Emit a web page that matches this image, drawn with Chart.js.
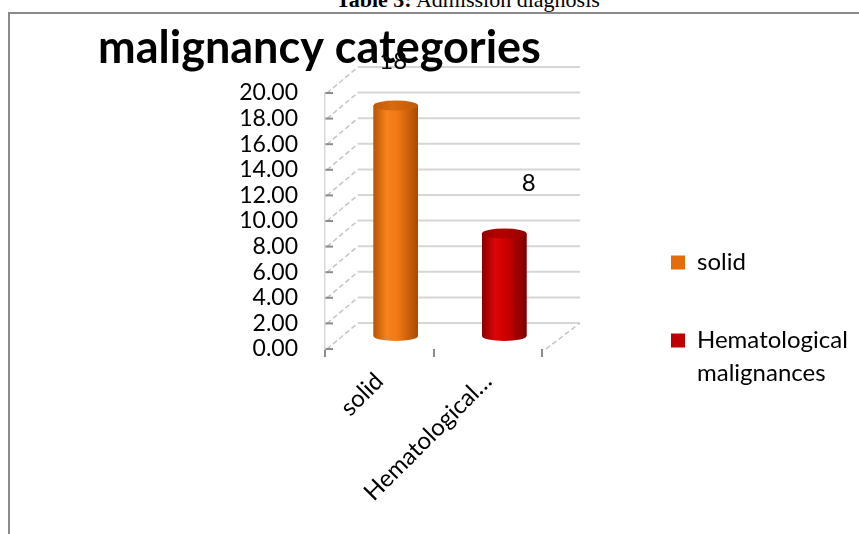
<!DOCTYPE html>
<html>
<head>
<meta charset="utf-8">
<script src="https://cdn.jsdelivr.net/npm/chart.js@4.4.0/dist/chart.umd.min.js"></script>
<style>
  html, body { margin:0; padding:0; background:#fff; width:859px; height:534px; overflow:hidden; }
  #caption { position:absolute; left:336px; top:-11px; white-space:nowrap; font-family:"Liberation Serif","Times New Roman",serif; font-size:22px; line-height:22px; color:#000; }
  #frame { position:absolute; left:8px; top:12px; width:870px; height:540px; border-top:2px solid #8a8a8a; border-left:2px solid #8a8a8a; }
  #wrap { position:absolute; left:0; top:0; width:859px; height:534px; }
</style>
</head>
<body>
<div id="caption"><b>Table 3:</b> Admission diagnosis</div>
<div id="frame"></div>
<div id="wrap"><canvas id="c" width="859" height="534"></canvas></div>
<script>
// ---- data ----
const chartTitle = 'malignancy categories';
const categories = ['solid', 'Hematological malignances'];
const xTickLabels = ['solid', 'Hematological\u2026'];
const legendLines = [['solid', ''], ['Hematological', 'malignances']];
const values = [18, 8];
const valueLabels = ['18', '8'];
const yMin = 0, yMax = 20, yStep = 2;

// ---- styles ----
const barColors = ['#E46C0A', '#C00000'];
const cyl = [
  { edge:'#b85400', light:'#f7831d', mid:'#ef7814', dark:'#a84a00', cap:'#d96a0e', capDark:'#bf5a06' },
  { edge:'#8c0000', light:'#dc0606', mid:'#cc0000', dark:'#7a0000', cap:'#b40000', capDark:'#980000' }
];
const FONT = 'Lato, "Open Sans", sans-serif';
const depth = { x: 33, y: -26 };
const labelOffsets = [{ x: 14, y: -57 }, { x: 41, y: -63 }];

// legend width -> right padding so that the plot box ends where the reference does
const LEG_FONT = 24, LEG_PAD = 12, LEG_BOX = 14, GAP = 117;
const mctx = document.createElement('canvas').getContext('2d');
mctx.font = LEG_FONT + 'px ' + FONT;
const legendTextW = Math.max(...legendLines.flat().map(s => mctx.measureText(s).width));
const legendW = 2 * LEG_PAD + LEG_BOX + LEG_FONT / 2 + legendTextW;
const padRight = Math.max(0, 859 - 540 - GAP - legendW);

function cylinder(ctx, cx, top, bottom, w, c) {
  const rx = w / 2, ry = 5;
  const g = ctx.createLinearGradient(cx - rx, 0, cx + rx, 0);
  g.addColorStop(0, c.edge); g.addColorStop(0.3, c.light); g.addColorStop(0.55, c.mid); g.addColorStop(1, c.dark);
  ctx.fillStyle = g;
  ctx.beginPath();
  ctx.moveTo(cx - rx, top);
  ctx.lineTo(cx - rx, bottom);
  ctx.ellipse(cx, bottom, rx, ry, 0, Math.PI, 0, true);
  ctx.lineTo(cx + rx, top);
  ctx.closePath();
  ctx.fill();
  const gt = ctx.createLinearGradient(cx - rx, 0, cx + rx, 0);
  gt.addColorStop(0, c.capDark); gt.addColorStop(0.4, c.cap); gt.addColorStop(1, c.capDark);
  ctx.fillStyle = gt;
  ctx.beginPath();
  ctx.ellipse(cx, top, rx, ry, 0, 0, Math.PI * 2);
  ctx.fill();
}

const box3d = {
  id: 'box3d',
  beforeDraw(chart) {
    const { ctx, chartArea: a, scales: { y } } = chart;
    ctx.save();
    for (let v = yMin; v <= yMax + 1e-9; v += yStep) {
      const py = y.getPixelForValue(v);
      ctx.strokeStyle = '#d6d6d6'; ctx.lineWidth = 2; ctx.setLineDash([]);
      ctx.beginPath(); ctx.moveTo(a.left + depth.x, py + depth.y); ctx.lineTo(a.right + depth.x + 5, py + depth.y); ctx.stroke();
      ctx.strokeStyle = '#c4c4c4'; ctx.lineWidth = 1.5; ctx.setLineDash([5, 3]);
      ctx.beginPath(); ctx.moveTo(a.left + 2, py); ctx.lineTo(a.left + depth.x, py + depth.y); ctx.stroke();
    }
    const p0 = y.getPixelForValue(yMin);
    ctx.beginPath(); ctx.moveTo(a.right + 4, p0); ctx.lineTo(a.right + depth.x + 5, p0 + depth.y); ctx.stroke();
    ctx.setLineDash([]);
    ctx.strokeStyle = '#8c8c8c'; ctx.lineWidth = 2;
    for (let v = yMin; v <= yMax + 1e-9; v += yStep) {
      const py = y.getPixelForValue(v);
      ctx.beginPath(); ctx.moveTo(a.left, py); ctx.lineTo(a.left + 8, py); ctx.stroke();
    }
    const meta = chart.getDatasetMeta(0);
    ctx.fillStyle = '#000'; ctx.font = '24px ' + FONT; ctx.textAlign = 'center'; ctx.textBaseline = 'middle';
    meta.data.forEach((bar, i) => {
      ctx.fillText(valueLabels[i], bar.x + labelOffsets[i].x, bar.y + labelOffsets[i].y);
    });
    ctx.restore();
  },
  beforeDatasetsDraw(chart) {
    chart.ctx.save();
    chart.ctx.translate(depth.x / 2, depth.y / 2);
  },
  afterDatasetsDraw(chart) {
    const ctx = chart.ctx;
    const meta = chart.getDatasetMeta(0);
    meta.data.forEach((bar, i) => {
      cylinder(ctx, bar.x, bar.y, bar.base, bar.width, cyl[i]);
    });
    ctx.restore();
  }
};

new Chart(document.getElementById('c'), {
  type: 'bar',
  data: {
    labels: categories,
    datasets: [{ data: values, backgroundColor: barColors, borderWidth: 0, categoryPercentage: 1, barPercentage: 0.41 }]
  },
  options: {
    responsive: false,
    animation: false,
    layout: { padding: { left: 98, top: 21, right: padRight, bottom: 0 } },
    plugins: {
      title: {
        display: true, text: chartTitle, align: 'start', color: '#000',
        font: { family: FONT, size: 45, weight: 'bold', lineHeight: 1.2 },
        padding: { top: 0, bottom: 18 }
      },
      legend: {
        position: 'right', align: 'start', maxWidth: 400,
        title: { display: true, text: ' ', font: { size: 12 }, padding: { top: 203, bottom: 0 } },
        labels: {
          boxWidth: LEG_BOX, boxHeight: 14, padding: LEG_PAD, color: '#000',
          font: { family: FONT, size: LEG_FONT, lineHeight: 1.375 },
          generateLabels: () => legendLines.map((t, i) => ({
            text: t, fillStyle: barColors[i], strokeStyle: barColors[i], fontColor: '#000', lineWidth: 0, hidden: false, index: i, datasetIndex: 0
          }))
        }
      },
      tooltip: { enabled: false }
    },
    scales: {
      x: {
        grid: { display: true, drawOnChartArea: false, drawTicks: true, tickLength: 8, color: '#8c8c8c', lineWidth: 2, offset: true },
        border: { display: false },
        ticks: {
          color: '#000', font: { family: FONT, size: 24 }, maxRotation: 45, minRotation: 45, autoSkip: false, padding: 10,
          callback: (v, i) => xTickLabels[i]
        },
        afterFit: (s) => { s.height = 185; }
      },
      y: {
        min: yMin, max: yMax,
        grid: { display: false, drawTicks: false },
        border: { display: true, color: '#d9d9d9', width: 1.5 },
        ticks: { stepSize: yStep, autoSkip: false, color: '#000', font: { family: FONT, size: 23 }, padding: 27, callback: (v) => Number(v).toFixed(2) },
        afterFit: (s) => { s.width = 227; }
      },
      gap: {
        type: 'linear', position: 'right', display: true,
        grid: { display: false, drawTicks: false }, border: { display: false }, ticks: { display: false },
        afterFit: (s) => { s.width = GAP; }
      }
    }
  },
  plugins: [box3d]
});
</script>
</body>
</html>
